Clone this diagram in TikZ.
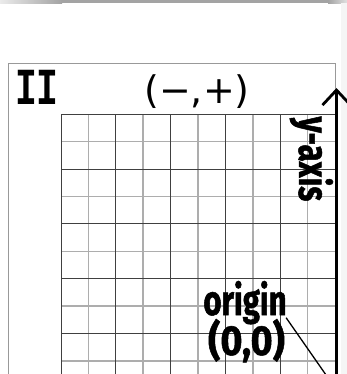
\documentclass[tikz,border=0pt]{standalone}
\usepackage{fontspec}
\usetikzlibrary{arrows.meta,positioning}
\newfontfamily\handfont[FakeStretch=0.74,FakeBold=1.2]{Fira Sans}
\newfontfamily\widehandfont[FakeStretch=0.9,FakeBold=1.2]{Fira Sans}
\newfontfamily\signfont{DejaVu Sans}
\newfontfamily\quadfont[FakeStretch=0.7]{Liberation Mono}

\begin{document}
\begin{tikzpicture}[x=1pt,y=-1pt,
  darkline/.style={draw=black!75,line width=0.9pt},
  lightline/.style={draw=black!32,line width=1.6pt},
  hand/.style={font=\handfont\bfseries\fontsize{42}{44}\selectfont,inner sep=1pt},
  yaxis/.style={line width=2.8pt,-{Straight Barb[length=15pt,width=28pt]}}]
\useasboundingbox (0,0) rectangle (347,374);
\clip (0,0) rectangle (347,374);
\fill[black!36] (0,0) rectangle (347,3.5);
\shade[left color=black!8,right color=black!36] (0,0) rectangle (62,3.5);
\shade[left color=black!36,right color=black!12] (328,0) rectangle (347,3.5);
\fill[black!4] (341,3.5) rectangle (347,374);
\draw[black!40,line width=0.9pt] (8,374) -- (8,63) -- (335,63) -- (335,374);
\foreach \i in {1,3,...,9}
  \draw[lightline] ({61+27.4*\i},114.3) -- ({61+27.4*\i},374);
\foreach \j in {1,3,...,9}
  \draw[lightline] (61,{114.3+27.4*\j}) -- (335,{114.3+27.4*\j});
\foreach \i in {0,2,...,10}
  \draw[darkline] ({61+27.4*\i},114.3) -- ({61+27.4*\i},374);
\foreach \j in {0,2,...,8}
  \draw[darkline] (61,{114.3+27.4*\j}) -- (335,{114.3+27.4*\j});
\coordinate (o) at (336.5,390);
\coordinate (ytop) at (336.5,88);
\draw[yaxis] (o) -- (ytop);
\node[anchor=base,inner sep=0pt,font=\quadfont\bfseries\fontsize{52}{54}\selectfont] (quad) at (37,105) {II};
\node[anchor=base,inner sep=0pt,font=\signfont\fontsize{38}{40}\selectfont] (signs) at (197,104) {(−,+)};
\node[hand,rotate=-90,anchor=base] (ylab) at (299,159) {y-axis};
\node[hand,anchor=base] (orig) at (245,315) {origin};
\node[hand,font=\widehandfont\bfseries\fontsize{42}{44}\selectfont,anchor=base] (zero) at (246.5,355) {(0,0)};
\draw[line width=1.3pt] (zero.north east) -- (o);
\end{tikzpicture}
\end{document}
